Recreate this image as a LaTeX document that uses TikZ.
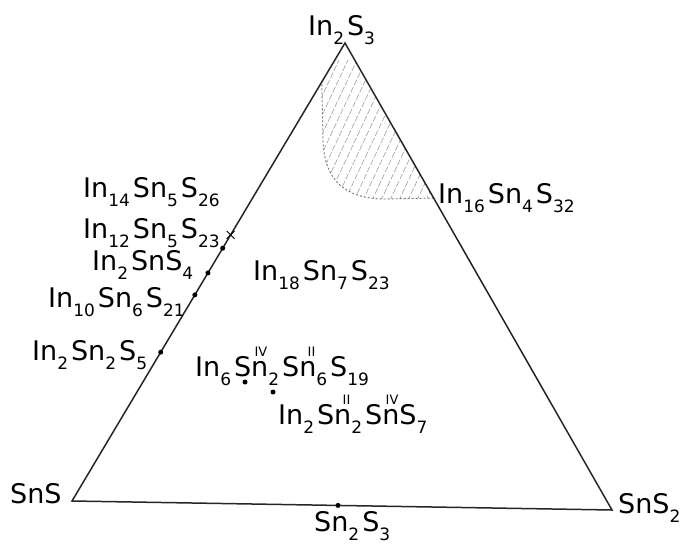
\documentclass[tikz,border=0pt]{standalone}
\usepackage{fontspec}
\setmainfont{DejaVu Sans}
\usetikzlibrary{calc,positioning,shapes.misc}
\newcommand\chsub[1]{\raisebox{-9pt}{\fontsize{17}{17}\selectfont #1}\hspace{3pt}}
\newcommand\oxsn[1]{Sn\llap{\raisebox{20pt}{\fontsize{13}{13}\selectfont #1}\hspace{1pt}}}
\tikzset{
  edge/.style={line width=1.5pt,black!85,line join=miter},
  bnd/.style={dash pattern=on 2pt off 2pt,line width=0.9pt,gray!90!black},
  hatch/.style={line width=0.6pt,gray!75,dash pattern=on 6pt off 2pt},
  pt/.style={circle,fill=black,inner sep=0pt,minimum size=5pt},
  xpt/.style={cross out,draw,thick,inner sep=0pt,minimum size=7pt},
  lbl/.style={inner sep=0pt,anchor=base west,font=\fontsize{27}{30}\selectfont}
}

\begin{document}
\begin{tikzpicture}[x=1pt,y=-1pt]
\useasboundingbox (0,0) rectangle (688,544);
\coordinate (T) at (345,43);
\coordinate (L) at (72,501);
\coordinate (R) at (612,510);
\coordinate (H1) at ($(L)!0.915!(T)$);
\coordinate (H2) at ($(T)!0.332!(R)$);
\coordinate (B1) at (385,199);
\coordinate (B2) at (323,140);

% hatched field at the In2S3 corner
\begin{scope}
  \clip (T) -- (H2) -- (B1) .. controls (345,199) and (324,180) .. (B2) -- (H1) -- cycle;
  \foreach \i in {0,9,...,180}
    \draw[hatch] (250+\i,230) -- ++(80,-170);
\end{scope}
\draw[bnd] (H2) -- (B1) .. controls (345,199) and (324,180) .. (B2) -- (H1);

\draw[edge] (T) -- (R) -- (L) -- cycle;

\node[xpt] (p1) at ($(L)!0.581!(T)$) {};
\node[pt] (p2) at ($(L)!0.552!(T)$) {};
\node[pt] (p3) at ($(L)!0.498!(T)$) {};
\node[pt] (p4) at ($(L)!0.450!(T)$) {};
\node[pt] (p5) at ($(L)!0.325!(T)$) {};
\node[pt] (p6) at ($(L)!0.4926!(R)$) {};
\node[pt] (p7) at (245,382) {};
\node[pt] (p8) at (273,392) {};

\node[lbl] (nT) at (308,35) {In\chsub{2}S\chsub{3}};
\node[lbl] (nL) at (10,503) {SnS};
\node[lbl] (nR) at (618,513) {SnS\chsub{2}};
\node[lbl] (nB) at (314,531) {Sn\chsub{2}S\chsub{3}};
\node[lbl] (n1) at (438,203) {In\chsub{16}Sn\chsub{4}S\chsub{32}};
\node[lbl] (n2) at (83,197) {In\chsub{14}Sn\chsub{5}S\chsub{26}};
\node[lbl] (n3) at (83,238) {In\chsub{12}Sn\chsub{5}S\chsub{23}};
\node[lbl] (n4) at (92,270) {In\chsub{2}SnS\chsub{4}};
\node[lbl] (n5) at (48,307) {In\chsub{10}Sn\chsub{6}S\chsub{21}};
\node[lbl] (n6) at (32,360) {In\chsub{2}Sn\chsub{2}S\chsub{5}};
\node[lbl] (n7) at (253,280) {In\chsub{18}Sn\chsub{7}S\chsub{23}};
\node[lbl] (n8) at (195,376) {In\chsub{6}\oxsn{IV}\chsub{2}\oxsn{II}\chsub{6}S\chsub{19}};
\node[lbl] (n9) at (278,424) {In\chsub{2}\oxsn{II}\chsub{2}\oxsn{IV}S\chsub{7}};
\end{tikzpicture}
\end{document}
